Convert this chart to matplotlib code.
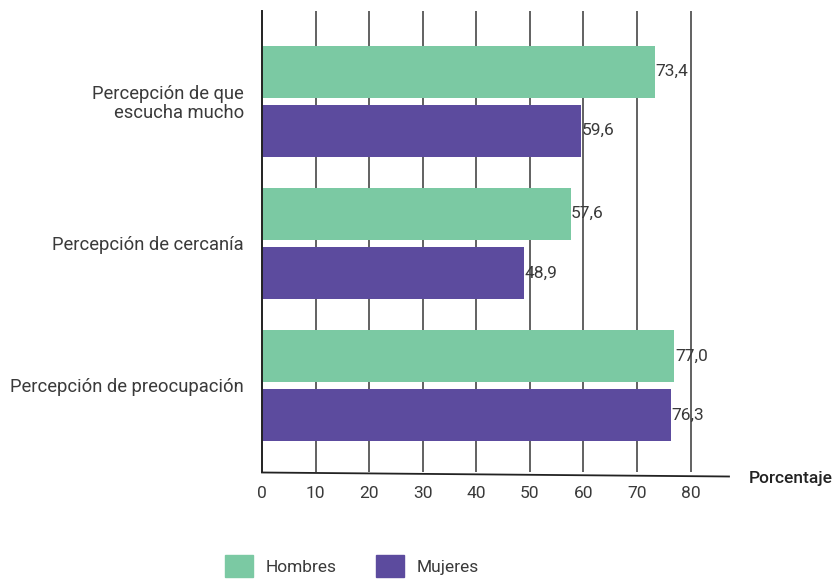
import matplotlib.pyplot as plt
from matplotlib.lines import Line2D
from matplotlib.patches import Patch
import numpy as np

plt.rcParams["font.family"] = ["Roboto", "DejaVu Sans"]

categories = ["Percepción de que\nescucha mucho", "Percepción de cercanía", "Percepción de preocupación"]
hombres = [73.4, 57.6, 77.0]
mujeres = [59.6, 48.9, 76.3]
ticks = [0, 10, 20, 30, 40, 50, 60, 70, 80]

green = "#7BC9A3"
purple = "#5C4B9E"
txt = "#3a3a3a"
W, H = 834, 579

fig = plt.figure(figsize=(W / 100, H / 100), dpi=100)
ax = fig.add_axes([262 / W, 1 - 472 / H, 466 / W, 461 / H])

y = np.arange(len(categories))
off = 0.208
h = 0.366
ax.barh(y - off, hombres, height=h, color=green, zorder=2)
ax.barh(y + off, mujeres, height=h, color=purple, zorder=2)

for yi, v in zip(y - off, hombres):
    ax.text(v + 0.1, yi, f"{v:.1f}".replace(".", ","), va="center", ha="left",
            fontsize=12.5, color=txt, zorder=3)
for yi, v in zip(y + off, mujeres):
    ax.text(v + 0.1, yi, f"{v:.1f}".replace(".", ","), va="center", ha="left",
            fontsize=12.5, color=txt, zorder=3)

ax.set_xlim(0, 87)
ax.set_ylim(2.609, -0.634)
ax.set_xticks(ticks)
ax.set_xticklabels([str(t) for t in ticks], fontsize=12.5, color=txt)
ax.set_yticks(y)
ax.set_yticklabels(categories, fontsize=13.2, color=txt, linespacing=1.05)
ax.tick_params(axis="both", length=0)
ax.tick_params(axis="x", pad=10)
ax.tick_params(axis="y", pad=13)
for lab in ax.get_yticklabels():
    lab.set_horizontalalignment("right")
    lab.set_multialignment("right")

for s in ["top", "right", "bottom"]:
    ax.spines[s].set_visible(False)
ax.spines["left"].set_color("#222222")
ax.spines["left"].set_linewidth(1.4)

for t in ticks[1:]:
    ax.axvline(t, color="#555555", linewidth=1.3, zorder=1)

# slightly tilted base line
fig.add_artist(Line2D([262 / W, 729 / W], [1 - 472.5 / H, 1 - 476.5 / H],
                      color="#222222", linewidth=1.3, transform=fig.transFigure))

fig.text(749 / W, 1 - 478 / H, "Porcentaje", fontsize=12.5, fontweight="medium",
         color="#222222", va="center", ha="left")

handles = [Patch(color=green, label="Hombres"), Patch(color=purple, label="Mujeres")]
fig.legend(handles=handles, loc="center", bbox_to_anchor=(352 / W, 1 - 566 / H), ncol=2,
           frameon=False, handlelength=1.6, handleheight=1.5,
           columnspacing=2.3, handletextpad=0.7, prop={"size": 12.5})
for t in fig.legends[0].get_texts():
    t.set_color(txt)

fig.savefig("out.png", dpi=100)
